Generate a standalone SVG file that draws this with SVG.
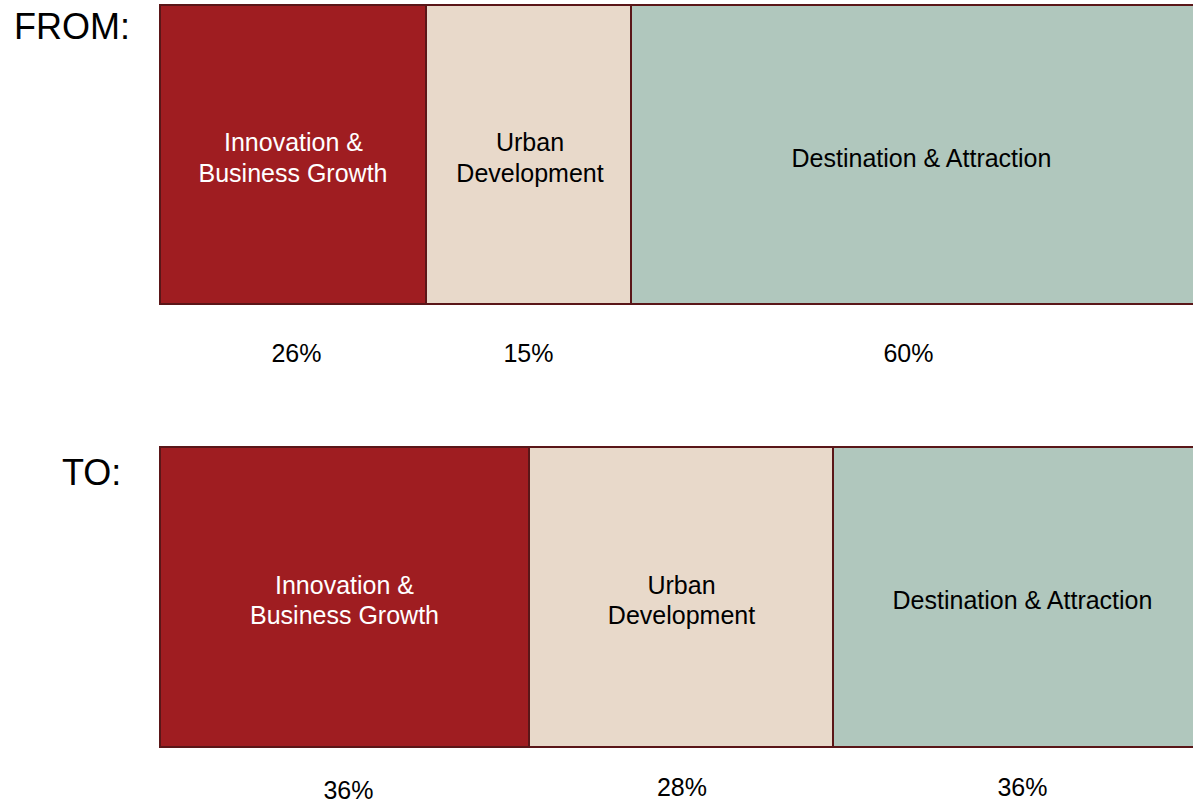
<svg xmlns="http://www.w3.org/2000/svg" width="1193" height="802" viewBox="0 0 1193 802">
<style>
text{font-family:"Liberation Sans",Arial,sans-serif;}
.seg{stroke:#5a1618;stroke-width:2;}
.red{fill:#9f1d21;}
.beige{fill:#e8d9ca;}
.green{fill:#b0c7bd;}
.big{font-size:36px;fill:#000;}
.lbl{font-size:25px;text-anchor:middle;}
.w{fill:#ffffff;}
.k{fill:#000000;}
</style>
<rect width="1193" height="802" fill="#ffffff"/>
<text class="big" x="14" y="39">FROM:</text>
<text class="big" x="62" y="485">TO:</text>
<g id="from-innovation">
<rect class="seg red" x="160" y="5" width="266" height="299"/>
<text class="lbl w" x="293.5" y="150.5">Innovation &amp;</text>
<text class="lbl w" x="293" y="181.5">Business Growth</text>
</g>
<g id="from-urban">
<rect class="seg beige" x="426" y="5" width="205" height="299"/>
<text class="lbl k" x="530" y="150.5">Urban</text>
<text class="lbl k" x="530" y="181.5">Development</text>
</g>
<g id="from-destination">
<rect class="seg green" x="631" y="5" width="566" height="299"/>
<text class="lbl k" x="921.5" y="166.5">Destination &amp; Attraction</text>
</g>
<g id="from-pct">
<text class="lbl k" x="296.5" y="361.5">26%</text>
<text class="lbl k" x="528.5" y="361.5">15%</text>
<text class="lbl k" x="908.5" y="361.5">60%</text>
</g>
<g id="to-innovation">
<rect class="seg red" x="160" y="447" width="369" height="300"/>
<text class="lbl w" x="344.5" y="593.5">Innovation &amp;</text>
<text class="lbl w" x="344.5" y="623.5">Business Growth</text>
</g>
<g id="to-urban">
<rect class="seg beige" x="529" y="447" width="304" height="300"/>
<text class="lbl k" x="681.5" y="593.5">Urban</text>
<text class="lbl k" x="681.5" y="623.5">Development</text>
</g>
<g id="to-destination">
<rect class="seg green" x="833" y="447" width="364" height="300"/>
<text class="lbl k" x="1022.5" y="608.5">Destination &amp; Attraction</text>
</g>
<g id="to-pct">
<text class="lbl k" x="348.5" y="799">36%</text>
<text class="lbl k" x="682" y="796">28%</text>
<text class="lbl k" x="1022.5" y="796">36%</text>
</g>
<g id="connectors"></g>
</svg>
